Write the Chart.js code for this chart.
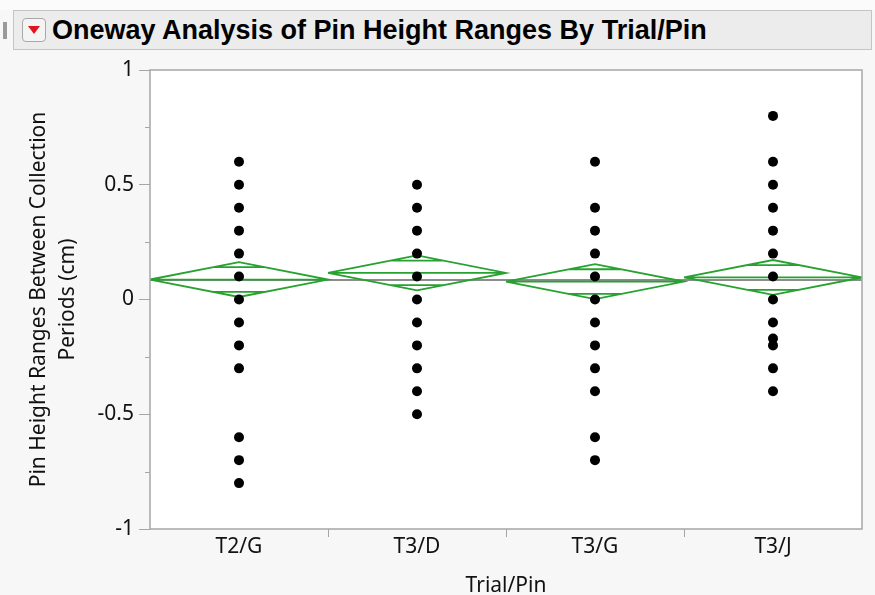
<!DOCTYPE html>
<html>
<head>
<meta charset="utf-8">
<script src="https://cdn.jsdelivr.net/npm/chart.js@4"></script>
<style>
  html, body { margin: 0; padding: 0; }
  body { width: 875px; height: 595px; background: #f7f7f7; position: relative; overflow: hidden; }
  .top-strip { position: absolute; left: 0; top: 0; width: 875px; height: 10px; background: #fbfbfb; }
  .outline-mark { position: absolute; left: 3px; top: 22px; width: 4px; height: 17px; background: #9a9a9a; }
  .header { position: absolute; left: 13px; top: 10px; width: 857px; height: 38px;
            background: #ececec; border: 1px solid #c4c4c4; }
  .menu-btn { position: absolute; left: 8px; top: 7px; width: 24px; height: 24px; box-sizing: border-box;
              border: 1px solid #a9a9a9; border-radius: 4px; background: #f4f4f4; }
  .menu-btn::after { content: ''; position: absolute; left: 5px; top: 7px;
                     border-left: 6px solid transparent; border-right: 6px solid transparent;
                     border-top: 8px solid #e0141e; }
  .header-title { position: absolute; left: 38px; top: 1px; line-height: 36px;
                  font-family: "Liberation Sans", Arial, sans-serif; font-weight: bold; font-size: 27px;
                  color: #000; white-space: nowrap; }
  #chart { position: absolute; left: 0; top: 50px; }
</style>
</head>
<body>
<div class="top-strip"></div>
<div class="outline-mark"></div>
<div class="header">
  <div class="menu-btn"></div>
  <div class="header-title">Oneway Analysis of Pin Height Ranges By Trial/Pin</div>
</div>
<canvas id="chart" width="875" height="545"></canvas>
<script>
// groups on the x axis
const categories = ['T2/G', 'T3/D', 'T3/G', 'T3/J'];

// observed pin height ranges (cm) per group
const rangesT2G = [0.6, 0.5, 0.4, 0.3, 0.2, 0.1, 0, -0.1, -0.2, -0.3, -0.6, -0.7, -0.8];
const rangesT3D = [0.5, 0.4, 0.3, 0.2, 0.1, 0, -0.1, -0.2, -0.3, -0.4, -0.5];
const rangesT3G = [0.6, 0.4, 0.3, 0.2, 0.1, 0, -0.1, -0.2, -0.3, -0.4, -0.6, -0.7];
const rangesT3J = [0.8, 0.6, 0.5, 0.4, 0.3, 0.2, 0.1, 0, -0.1, -0.17, -0.2, -0.3, -0.4];

// means diamonds: group mean with 95% confidence limits
const groupMeans = [0.087, 0.116, 0.078, 0.096];
const ciLower = [0.011, 0.040, 0.002, 0.020];
const ciUpper = [0.163, 0.192, 0.154, 0.172];
const grandMean = 0.085;

const yMajorTicks = [-1, -0.5, 0, 0.5, 1];
const yMinorTicks = [-0.75, -0.25, 0.25, 0.75];

const groups = [rangesT2G, rangesT3D, rangesT3G, rangesT3J];

const FONT = '"Noto Sans", "Open Sans", sans-serif';
const GREEN = '#27a230';

// build the diamond outlines, mean lines and overlap marks as one broken line
function diamondPoints() {
    const pts = [];
    const gap = { x: 0, y: null };
    groupMeans.forEach((m, i) => {
        const lo = ciLower[i], hi = ciUpper[i];
        pts.push({ x: i - 0.5, y: m }, { x: i, y: hi }, { x: i + 0.5, y: m }, { x: i, y: lo }, { x: i - 0.5, y: m }, gap);
        pts.push({ x: i - 0.5, y: m }, { x: i + 0.5, y: m }, gap);
        // overlap marks sit at sqrt(2)/2 of the half-height
        const k = Math.SQRT1_2;
        const up = m + (hi - m) * k, dn = m - (m - lo) * k;
        const w = 0.5 * (1 - k);
        pts.push({ x: i - w, y: up }, { x: i + w, y: up }, gap);
        pts.push({ x: i - w, y: dn }, { x: i + w, y: dn }, gap);
    });
    return pts;
}

const pointData = [];
groups.forEach((vals, i) => vals.forEach(v => pointData.push({ x: i, y: v })));

const framePlugin = {
    id: 'frame',
    beforeDraw(chart) {
        const { ctx, chartArea: a } = chart;
        ctx.save();
        ctx.fillStyle = '#ffffff';
        ctx.fillRect(a.left, a.top, a.width, a.height);
        ctx.restore();
    },
    afterDraw(chart) {
        const { ctx, chartArea: a, scales: { x, y } } = chart;
        ctx.save();
        ctx.strokeStyle = '#a6a6a6';
        ctx.lineWidth = 1.5;
        ctx.strokeRect(a.left, a.top, a.width, a.height);

        ctx.lineWidth = 1;
        ctx.beginPath();
        yMinorTicks.forEach(v => {
            const py = Math.round(y.getPixelForValue(v)) + 0.5;
            ctx.moveTo(a.left - 5, py);
            ctx.lineTo(a.left, py);
        });
        // tick marks between the groups
        for (let i = 0; i < categories.length - 1; i++) {
            const px = Math.round(x.getPixelForValue(i + 0.5)) + 0.5;
            ctx.moveTo(px, a.bottom);
            ctx.lineTo(px, a.bottom + 8);
        }
        ctx.stroke();
        ctx.restore();
    }
};

new Chart(document.getElementById('chart'), {
    type: 'scatter',
    data: {
        datasets: [
            {
                label: 'Points',
                data: pointData,
                pointRadius: 5,
                pointBackgroundColor: '#000',
                pointBorderWidth: 0,
                order: 0
            },
            {
                label: 'Means diamonds',
                data: diamondPoints(),
                showLine: true,
                spanGaps: false,
                borderColor: GREEN,
                borderWidth: 1.8,
                pointRadius: 0,
                fill: false,
                order: 1
            },
            {
                label: 'Grand mean',
                data: [{ x: -0.5, y: grandMean }, { x: categories.length - 0.5, y: grandMean }],
                showLine: true,
                borderColor: '#8c8c8c',
                borderWidth: 2,
                pointRadius: 0,
                order: 2
            }
        ]
    },
    options: {
        responsive: false,
        animation: false,
        devicePixelRatio: 1,
        layout: { padding: { top: 20, right: 13, left: 0, bottom: 0 } },
        plugins: {
            legend: { display: false },
            tooltip: { enabled: false }
        },
        scales: {
            x: {
                type: 'linear',
                min: -0.5,
                max: categories.length - 0.5,
                afterBuildTicks: (scale) => {
                    scale.ticks = categories.map((c, i) => ({ value: i }));
                },
                afterFit: (scale) => { scale.height = 66; },
                grid: { display: false, drawTicks: false },
                border: { display: false },
                ticks: {
                    padding: 5,
                    color: '#111',
                    font: { family: FONT, size: 21 },
                    callback: (v) => categories[v]
                },
                title: {
                    display: true,
                    text: 'Trial/Pin',
                    color: '#111',
                    font: { family: FONT, size: 21 },
                    padding: { top: 0, bottom: -4 }
                }
            },
            y: {
                min: -1,
                max: 1,
                afterBuildTicks: (scale) => {
                    scale.ticks = yMajorTicks.map(v => ({ value: v }));
                },
                afterFit: (scale) => { scale.width = 150; },
                grid: {
                    drawOnChartArea: false,
                    tickLength: 11,
                    tickColor: '#a6a6a6'
                },
                border: { display: false },
                ticks: {
                    padding: 5,
                    color: '#111',
                    font: { family: FONT, size: 21 },
                    callback: (v) => String(v)
                },
                title: {
                    display: true,
                    text: ['Pin Height Ranges Between Collection', 'Periods (cm)'],
                    color: '#111',
                    font: { family: FONT, size: 21, lineHeight: 1.4 },
                    padding: { top: 24, bottom: 0 }
                }
            }
        }
    },
    plugins: [framePlugin]
});
</script>
</body>
</html>
